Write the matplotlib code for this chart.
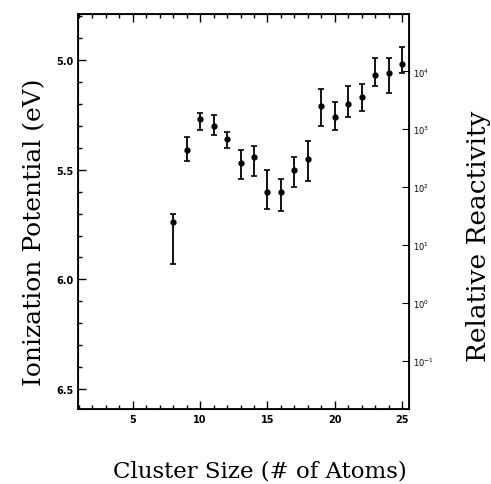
import numpy as np
import matplotlib
matplotlib.use("Agg")
import matplotlib.pyplot as plt
from matplotlib.ticker import MultipleLocator, LogLocator, NullFormatter


OUTPUT_PATH = "out.png"

# cluster size and ionization potential (eV)
cluster_size = [8, 9, 10, 11, 12, 13, 14, 15, 16, 17, 18, 19, 20, 21, 22, 23, 24, 25]
ip_value = [5.74, 5.41, 5.27, 5.30, 5.36, 5.47, 5.44, 5.60, 5.60, 5.50, 5.45,
            5.21, 5.26, 5.20, 5.17, 5.07, 5.06, 5.02]
ip_low = [5.70, 5.35, 5.24, 5.25, 5.33, 5.41, 5.39, 5.50, 5.54, 5.44, 5.37,
          5.13, 5.19, 5.12, 5.11, 4.99, 4.99, 4.94]
ip_high = [5.93, 5.46, 5.32, 5.34, 5.40, 5.54, 5.53, 5.68, 5.69, 5.58, 5.55,
           5.30, 5.32, 5.26, 5.23, 5.12, 5.15, 5.06]

left_ticks = [5.0, 5.5, 6.0, 6.5]
right_ticks = [1e-1, 1e0, 1e1, 1e2, 1e3, 1e4]
right_labels = ["$10^{-1}$", "$10^{0}$", "$10^{1}$", "$10^{2}$", "$10^{3}$", "$10^{4}$"]
x_ticks = [5, 10, 15, 20, 25]

LABEL_FONT = "DejaVu Serif"


def draw_chart():
    fig = plt.figure(figsize=(4.91, 4.85), dpi=100)
    ax = fig.add_axes([0.159, 0.155, 0.674, 0.814])

    vals = np.array(ip_value)
    err = [vals - np.array(ip_low), np.array(ip_high) - vals]

    ax.errorbar(cluster_size, vals, yerr=err, fmt="o", color="black",
                markersize=3.5, elinewidth=1.3, capsize=2.5, capthick=1.2)

    ax.set_xlim(0.95, 25.5)
    ax.set_ylim(6.59, 4.79)

    ax.set_xticks(x_ticks)
    ax.xaxis.set_minor_locator(MultipleLocator(1))
    ax.set_yticks(left_ticks)
    ax.set_yticklabels([f"{t:.1f}" for t in left_ticks])
    ax.yaxis.set_minor_locator(MultipleLocator(0.1))

    ax.tick_params(which="both", direction="in", top=True, width=1.0)
    ax.tick_params(which="major", length=6, labelsize=7)
    ax.tick_params(which="minor", length=3)
    for lbl in ax.get_xticklabels() + ax.get_yticklabels():
        lbl.set_fontweight("bold")
    for sp in ax.spines.values():
        sp.set_linewidth(1.3)

    ax.set_xlabel("Cluster Size (# of Atoms)", family=LABEL_FONT,
                  fontsize=16.5, va="center", ha="center")
    ax.xaxis.set_label_coords(0.55, -0.157)
    ax.set_ylabel("Ionization Potential (eV)", family=LABEL_FONT,
                  fontsize=18, va="center", ha="center")
    ax.yaxis.set_label_coords(-0.13, 0.45)

    # right axis: relative reactivity on a log scale
    ax2 = ax.twinx()
    ax2.set_yscale("log")
    ax2.set_ylim(10 ** -1.83, 10 ** 4.99)
    ax2.set_yticks(right_ticks)
    ax2.set_yticklabels(right_labels)
    ax2.yaxis.set_minor_formatter(NullFormatter())
    ax2.yaxis.set_minor_locator(LogLocator(subs=[]))
    ax2.tick_params(which="major", direction="in", length=5, labelsize=6, pad=3)
    for lbl in ax2.get_yticklabels():
        lbl.set_fontweight("bold")
    ax2.set_ylabel("Relative Reactivity", family=LABEL_FONT,
                   fontsize=19, va="center", ha="center")
    ax2.yaxis.set_label_coords(1.211, 0.44)

    fig.savefig(OUTPUT_PATH, dpi=100)
    plt.close(fig)


if __name__ == "__main__":
    draw_chart()
